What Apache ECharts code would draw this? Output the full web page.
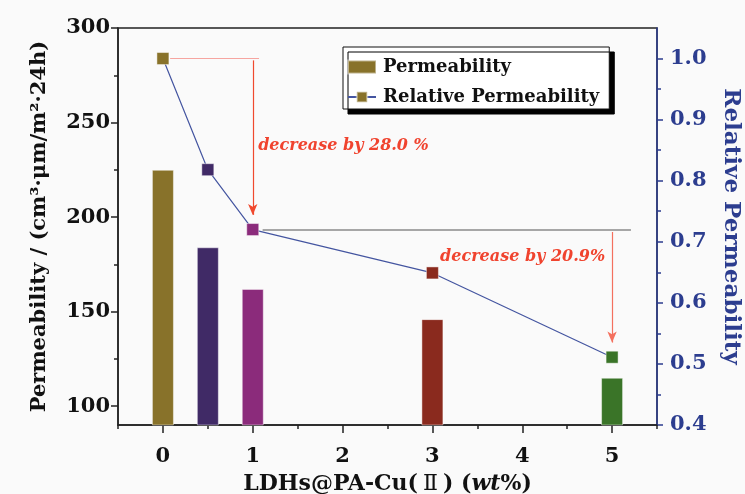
<!DOCTYPE html>
<html>
<head>
<meta charset="utf-8">
<script src="https://cdn.jsdelivr.net/npm/echarts@6/dist/echarts.min.js"></script>
<style>html,body{margin:0;padding:0;background:#fafafa;}#c{width:745px;height:494px;}</style>
</head>
<body>
<div id="c"></div>
<script>
// ---- data ----
const loadings = [0, 0.5, 1, 3, 5];                 // LDHs@PA-Cu(II) wt%
const permeability = [225, 184, 162, 146, 115];     // cm3·μm/m2·24h
const relative = [1.0, 0.818, 0.72, 0.649, 0.511];  // relative permeability
const xTickLabels = [0, 1, 2, 3, 4, 5];
const xMinorTicks = [-0.5, 0.5, 1.5, 2.5, 3.5, 4.5, 5.5];
const leftTickLabels = [100, 150, 200, 250, 300];
const leftMinorTicks = [125, 175, 225, 275];
const rightTickLabels = [0.4, 0.5, 0.6, 0.7, 0.8, 0.9, 1.0];
const rightMinorTicks = [0.45, 0.55, 0.65, 0.75, 0.85, 0.95];
const annot1 = 'decrease by 28.0 %';
const annot2 = 'decrease by 20.9%';

const colors = ['#88722A', '#402A66', '#8B2B7B', '#8A2A1E', '#3A7428'];
const FONT = 'DejaVu Serif';

const chart = echarts.init(document.getElementById('c'), null, {renderer: 'canvas'});

const frame = '#222';
const navy = '#2C3D8F';

const option = {
  backgroundColor: '#fafafa',
  animation: false,
  grid: {left: 118, right: 88, top: 28, bottom: 69, show: true, borderColor: frame, borderWidth: 1.5,
    backgroundColor: 'transparent', outerBoundsMode: 'none', containLabel: false},
  legend: {
    left: 343, top: 47, orient: 'vertical',
    padding: [11, 10, 3, 4],
    itemWidth: 28, itemHeight: 13, itemGap: 12,
    backgroundColor: '#ffffff', borderColor: '#111', borderWidth: 1,
    shadowColor: '#000', shadowBlur: 0, shadowOffsetX: 5, shadowOffsetY: 5,
    textStyle: {fontFamily: FONT, fontWeight: 'bold', fontSize: 18, color: '#111', padding: [0,0,0,2]},
    data: [{name: 'Permeability', icon: 'rect'}, {name: 'Relative Permeability'}]
  },
  xAxis: [{
    type: 'value', min: -0.5, max: 5.5, position: 'bottom',
    splitLine: {show: false},
    axisLine: {show: true, onZero: false, lineStyle: {color: frame, width: 1.5}},
    axisTick: {show: true, inside: false, length: 8, customValues: xTickLabels, lineStyle: {color: frame, width: 1.5}},
    axisLabel: {customValues: xTickLabels, margin: 21, fontFamily: FONT, fontWeight: 'bold', fontSize: 21, color: '#111'},
    name: '{a|LDHs@PA-Cu(}{c|Ⅱ}{a|) (}{b|wt}{a|%)}',
    nameLocation: 'middle', nameGap: 48,
    nameTextStyle: {
      rich: {
        a: {fontFamily: FONT, fontWeight: 'bold', fontSize: 22, color: '#111'},
        b: {fontFamily: FONT, fontWeight: 'bold', fontStyle: 'italic', fontSize: 22, color: '#111'},
        c: {fontFamily: 'DejaVu Serif, DejaVu Sans, Noto Sans CJK SC', fontWeight: 'normal', fontSize: 22, color: '#111', padding: [0, 5, 0, 5]}
      }
    }
  }, {
    type: 'value', min: -0.5, max: 5.5, position: 'bottom',
    splitLine: {show: false}, axisLine: {show: false, onZero: false}, axisLabel: {show: false},
    axisTick: {show: true, inside: false, length: 4, customValues: xMinorTicks, lineStyle: {color: frame, width: 1.5}}
  }],
  yAxis: [{
    type: 'value', min: 90, max: 300, position: 'left',
    splitLine: {show: false},
    axisLine: {show: true, onZero: false, lineStyle: {color: frame, width: 1.5}},
    axisTick: {show: true, inside: false, length: 7, customValues: leftTickLabels, lineStyle: {color: frame, width: 1.5}},
    axisLabel: {customValues: leftTickLabels, margin: 8, fontFamily: FONT, fontWeight: 'bold', fontSize: 21, color: '#111'},
    name: 'Permeability / (cm³·μm/m²·24h)',
    nameLocation: 'middle', nameGap: 68, nameRotate: 90,
    nameTextStyle: {fontFamily: FONT, fontWeight: 'bold', fontSize: 21, color: '#111'}
  }, {
    type: 'value', min: 0.4, max: 1.05, position: 'right',
    splitLine: {show: false},
    axisLine: {show: true, onZero: false, lineStyle: {color: navy, width: 1.5}},
    axisTick: {show: true, inside: false, length: 6, customValues: rightTickLabels, lineStyle: {color: navy, width: 1.5}},
    axisLabel: {customValues: rightTickLabels, margin: 13, fontFamily: FONT, fontWeight: 'bold', fontSize: 21, color: navy,
      formatter: v => Number(v).toFixed(1)},
    name: 'Relative Permeability',
    nameLocation: 'middle', nameGap: 62, nameRotate: -90,
    nameTextStyle: {fontFamily: FONT, fontWeight: 'bold', fontSize: 23, color: navy}
  }, {
    type: 'value', min: 0.4, max: 1.05, position: 'right',
    splitLine: {show: false}, axisLine: {show: false, onZero: false}, axisLabel: {show: false},
    axisTick: {show: true, inside: false, length: 4, customValues: rightMinorTicks, lineStyle: {color: navy, width: 1.5}}
  }, {
    type: 'value', min: 90, max: 300, position: 'left',
    splitLine: {show: false}, axisLine: {show: false, onZero: false}, axisLabel: {show: false},
    axisTick: {show: true, inside: false, length: 4, customValues: leftMinorTicks, lineStyle: {color: frame, width: 1.5}}
  }],
  series: [{
    name: 'Permeability', type: 'bar', xAxisIndex: 0, yAxisIndex: 0,
    barWidth: 22,
    itemStyle: {color: colors[0], borderColor: 'rgba(255,255,255,0.45)', borderWidth: 1},
    data: loadings.map((x, i) => ({value: [x, permeability[i]], itemStyle: {color: colors[i]}})),
    z: 2
  }, {
    name: 'Relative Permeability', type: 'line', xAxisIndex: 0, yAxisIndex: 1,
    symbol: 'rect', symbolSize: 12,
    lineStyle: {color: '#4455A0', width: 1.2},
    itemStyle: {color: colors[0], borderColor: 'rgba(255,255,255,0.45)', borderWidth: 1},
    data: loadings.map((x, i) => ({value: [x, relative[i]], itemStyle: {color: colors[i]}})),
    z: 4,
    markLine: {
      silent: true, symbol: ['none', 'none'], label: {show: false}, animation: false,
      data: [
        [{coord: [0.08, relative[0]], lineStyle: {color: '#F6A5A0', width: 1.2, type: 'solid'}},
         {coord: [1.07, relative[0]]}],
        [{coord: [1.11, relative[2]], lineStyle: {color: '#8a8a8a', width: 1.6, type: 'solid'}},
         {coord: [5.21, relative[2]]}],
        [{coord: [loadings[2], 0.997], lineStyle: {color: '#F0492E', width: 1.2, type: 'solid'}},
         {coord: [loadings[2], relative[2] + 0.024], symbol: 'arrow', symbolSize: [7, 11]}],
        [{coord: [loadings[4], relative[2] - 0.004], lineStyle: {color: '#F4705E', width: 1.2, type: 'solid'}},
         {coord: [loadings[4], relative[4] + 0.024], symbol: 'arrow', symbolSize: [7, 11]}]
      ]
    },
    markPoint: {
      silent: true, symbol: 'circle', symbolSize: 0, animation: false,
      label: {show: true, position: 'right', distance: 0, formatter: '{b}',
        fontFamily: FONT, fontWeight: 'bold', fontStyle: 'italic', fontSize: 16, color: '#F0432E'},
      data: [
        {name: annot1, coord: [1.06, 0.857]},
        {name: annot2, coord: [3.085, 0.676]}
      ]
    }
  }]
};
chart.setOption(option);
</script>
</body>
</html>
